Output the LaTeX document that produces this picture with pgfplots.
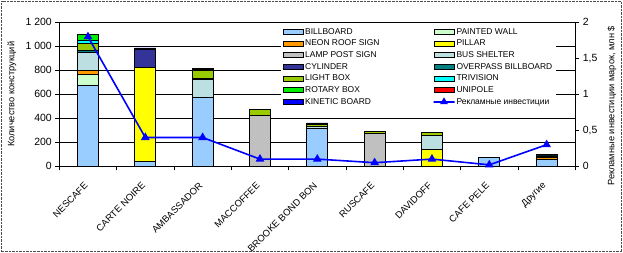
\documentclass[border=0pt]{standalone}
\usepackage{fontspec}
\setmainfont{Liberation Sans}
\usepackage{pgfplots}
\usepackage{pgfplotstable}
\pgfplotsset{compat=1.18}

\definecolor{cBB}{HTML}{99CCFF}
\definecolor{cPW}{HTML}{CCFFCC}
\definecolor{cNeon}{HTML}{FF9900}
\definecolor{cPillar}{HTML}{FFFF00}
\definecolor{cLamp}{HTML}{C0C0C0}
\definecolor{cBus}{HTML}{BCDFE2}
\definecolor{cCyl}{HTML}{333399}
\definecolor{cOver}{HTML}{008080}
\definecolor{cLight}{HTML}{99CC00}
\definecolor{cTriv}{HTML}{00FFFF}
\definecolor{cRot}{HTML}{00EE00}
\definecolor{cUni}{HTML}{FF0000}
\definecolor{cKin}{HTML}{0000FF}

\pgfplotsset{
  barlegend/.style={legend image code/.code={\draw[##1,draw=black,line width=0.6bp] (0bp,-2.5bp) rectangle (20bp,2.5bp);}},
  linelegend/.style={legend image code/.code={\draw[##1] (0bp,0bp) -- (20bp,0bp); \draw[##1] plot coordinates {(10bp,0bp)};}},
}

\pgfplotstableread{
x bb pw neon pillar lamp bus cyl over light triv rot uni kin inv
0 672 91 34 0 0 153 0 13 62 22 53 0 0 1.8
1 38 0 0 784 0 0 153 0 0 0 0 0 11 0.4
2 572 0 0 0 0 153 0 8 64 12 0 0 10 0.4
3 0 0 0 0 427 0 0 0 48 0 0 0 0 0.1
4 319 0 0 0 0 15 0 0 17 0 0 0 10 0.1
5 0 0 0 0 274 0 0 0 20 0 0 0 0 0.05
6 0 0 0 142 0 116 0 0 25 0 0 0 0 0.1
7 75 0 0 0 0 0 0 0 0 0 0 0 0 0.02
8 58 0 19 0 0 0 0 0 5 5 4 4 7 0.3
}\data

\begin{document}
\begin{tikzpicture}
\path[use as bounding box] (0,0) rectangle (623bp,253bp);
\draw[densely dotted, black!70] (1.5bp,1.5bp) rectangle (621.5bp,251.5bp);
\begin{axis}[
  at={(59.3bp,86.7bp)}, anchor=south west,
  scale only axis, width=516bp, height=144bp,
  ybar stacked, bar width=21bp,
  xmin=-0.5, xmax=8.5, ymin=0, ymax=1200,
  axis x line*=bottom, axis y line*=left,
  axis line style={black, line width=0.8bp},
  ytick={0,200,...,1200},
  yticklabels={0,200,400,600,800,1 000,1 200},
  ymajorgrids, grid style={black, line width=0.8bp},
  tick align=outside, major tick length=4bp,
  tick style={black, line width=0.8bp},
  xtick={-0.5,0.5,...,8.5},
  x tick label as interval,
  xticklabels={NESCAFE, CARTE NOIRE, AMBASSADOR, MACCOFFEE, BROOKE BOND BON, RUSCAFE, DAVIDOFF, CAFE PELE, Другие},
  x tick label style={yshift=-13bp, xshift=-1bp, rotate=45, anchor=east, font=\fontsize{9.5}{11}\selectfont, inner sep=1bp},
  y tick label style={font=\fontsize{10.5}{12}\selectfont},
  ylabel={Количество конструкций},
  ylabel style={at={(rel axis cs:-0.092,0.5)}, anchor=center, font=\fontsize{9.3}{11}\selectfont},
  barlegend,
  legend columns=2,
  legend style={at={(rel axis cs:0.43,0.985)}, anchor=north west, draw=none, fill=white,
    font=\fontsize{8.5}{10}\selectfont, inner sep=2bp,
    nodes={inner sep=1.2bp, text height=6.2bp, text depth=1.5bp},
    row sep=1.6bp, cells={anchor=west},
    /tikz/column 2/.style={column sep=52bp}},
  every axis plot/.append style={draw=black, line width=0.7bp},
]
\addplot[fill=cBB] table[x=x,y=bb]{\data}; \addlegendentry{BILLBOARD}
\addplot[fill=cPW] table[x=x,y=pw]{\data}; \addlegendentry{PAINTED WALL}
\addplot[fill=cNeon] table[x=x,y=neon]{\data}; \addlegendentry{NEON ROOF SIGN}
\addplot[fill=cPillar] table[x=x,y=pillar]{\data}; \addlegendentry{PILLAR}
\addplot[fill=cLamp] table[x=x,y=lamp]{\data}; \addlegendentry{LAMP POST SIGN}
\addplot[fill=cBus] table[x=x,y=bus]{\data}; \addlegendentry{BUS SHELTER}
\addplot[fill=cCyl] table[x=x,y=cyl]{\data}; \addlegendentry{CYLINDER}
\addplot[fill=cOver] table[x=x,y=over]{\data}; \addlegendentry{OVERPASS BILLBOARD}
\addplot[fill=cLight] table[x=x,y=light]{\data}; \addlegendentry{LIGHT BOX}
\addplot[fill=cTriv] table[x=x,y=triv]{\data}; \addlegendentry{TRIVISION}
\addplot[fill=cRot] table[x=x,y=rot]{\data}; \addlegendentry{ROTARY BOX}
\addplot[fill=cUni] table[x=x,y=uni]{\data}; \addlegendentry{UNIPOLE}
\addplot[fill=cKin] table[x=x,y=kin]{\data}; \addlegendentry{KINETIC BOARD}
\addlegendimage{linelegend, blue, line width=1.6bp, mark=triangle*, mark size=3bp}
\addlegendentry{Рекламные инвестиции}
\end{axis}
\begin{axis}[
  at={(59.3bp,86.7bp)}, anchor=south west,
  scale only axis, width=516bp, height=144bp,
  xmin=-0.5, xmax=8.5, ymin=0, ymax=2,
  axis y line*=right, axis x line=none,
  axis line style={black, line width=0.8bp},
  ytick={0,0.5,1,1.5,2},
  yticklabels={0,{0,5},1,{1,5},2},
  tick align=outside, major tick length=4bp,
  tick style={black, line width=0.8bp},
  y tick label style={font=\fontsize{10.5}{12}\selectfont},
  ylabel={Рекламные инвестиции марок, млн \$},
  ylabel style={at={(rel axis cs:1.071,0.42)}, anchor=center, font=\fontsize{9.3}{11}\selectfont},
]
\addplot[blue, line width=1.6bp, mark=triangle*, mark size=3.5bp, mark options={solid}] table[x=x,y=inv]{\data};
\end{axis}
\end{tikzpicture}
\end{document}
